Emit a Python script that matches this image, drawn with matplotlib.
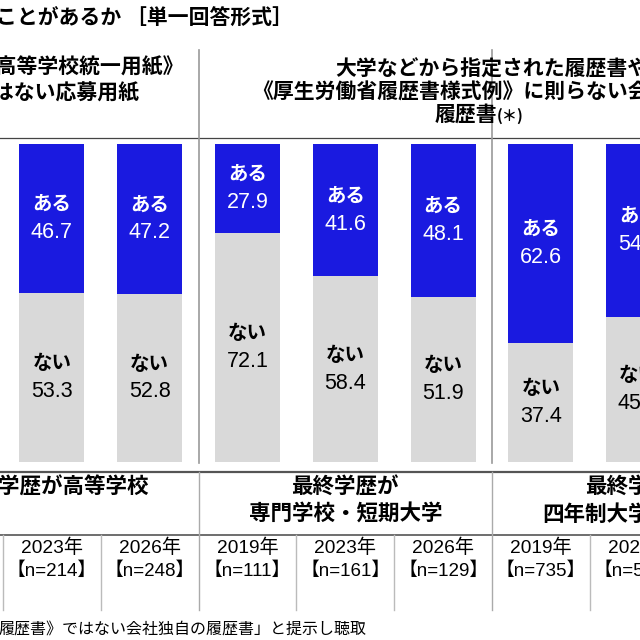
import matplotlib

matplotlib.use("Agg")
import matplotlib.pyplot as plt
import numpy as np

plt.rcParams["font.family"] = ["Liberation Sans", "Noto Sans CJK JP"]

# %%
# Datos (parte visible del gráfico)

title = "ことがあるか ［単一回答形式］"
header_left = ["《全国高等学校統一用紙》", "ではない応募用紙"]
header_right = ["大学などから指定された履歴書や", "《厚生労働省履歴書様式例》に則らない会社独自の"]
header_right_last = "履歴書"
groups = ["最終学歴が高等学校", "最終学歴が\n専門学校・短期大学", "最終学歴が\n四年制大学・大学院"]
group_centers = [0.5, 3.5, 6.5]
years = ["2023年", "2026年", "2019年", "2023年", "2026年", "2019年", "2023年"]
n_labels = ["【n=214】", "【n=248】", "【n=111】", "【n=161】", "【n=129】", "【n=735】", "【n=559】"]
aru = [46.7, 47.2, 27.9, 41.6, 48.1, 62.6, 54.4]
nai = [53.3, 52.8, 72.1, 58.4, 51.9, 37.4, 45.6]
footnote = "履歴書》ではない会社独自の履歴書」と提示し聴取"

blue = "#1a1ae0"
gray = "#d9d9d9"


# píxel vertical -> escala en %
def py(p):
    return (462 - p) / 3.18


# píxel horizontal -> escala de celdas
def px(p):
    return (p - 3) / 97.8


# %%
# Figura

fig = plt.figure(figsize=(6.4, 6.4), dpi=100)
ax = fig.add_axes([0, 0, 1, 1])
ax.set_xlim(px(0), px(640))
ax.set_ylim(py(640), py(0))
ax.axis("off")

x = np.arange(len(aru)) + 0.5
ax.bar(x, nai, width=0.665, color=gray)
ax.bar(x, aru, width=0.665, bottom=nai, color=blue)

for xi, a, n in zip(x, aru, nai):
    mid_a = n + a / 2
    mid_n = n / 2
    ax.annotate("ある", (xi, mid_a), xytext=(0, 10), textcoords="offset points",
                ha="center", va="center", color="white", fontsize=14, fontweight="bold",
                family=["Noto Sans CJK JP"])
    ax.annotate(f"{a:.1f}", (xi, mid_a), xytext=(0, -10), textcoords="offset points",
                ha="center", va="center", color="white", fontsize=15.5)
    ax.annotate("ない", (xi, mid_n), xytext=(0, 10), textcoords="offset points",
                ha="center", va="center", color="black", fontsize=14, fontweight="bold",
                family=["Noto Sans CJK JP"])
    ax.annotate(f"{n:.1f}", (xi, mid_n), xytext=(0, -10), textcoords="offset points",
                ha="center", va="center", color="black", fontsize=15.5)

# líneas
ax.plot([px(0), px(640)], [py(138), py(138)], color="#444444", lw=0.9)
ax.plot([px(0), px(640)], [py(472), py(472)], color="#555555", lw=1.6)
ax.plot([px(0), px(640)], [py(535), py(535)], color="#555555", lw=1.2)
for b in [2, 5]:
    ax.plot([b, b], [py(50), py(463)], color="#999999", lw=1.2)
    ax.plot([b, b], [py(472), py(610)], color="#aaaaaa", lw=1.0)
for b in [0, 1, 3, 4, 6]:
    ax.plot([b, b], [py(535), py(610)], color="#bbbbbb", lw=1.0)

# textos
ax.text(px(-4), py(18), title, ha="left", va="center", fontsize=15,
        fontweight="bold", family=["Noto Sans CJK JP"])

ax.text(px(58), py(67), header_left[0], ha="center", va="center", fontsize=15,
        fontweight="bold", family=["Noto Sans CJK JP"])
ax.text(px(56), py(93), header_left[1], ha="center", va="center", fontsize=15,
        fontweight="bold", family=["Noto Sans CJK JP"])
for k, line in enumerate(header_right):
    ax.text(5, py(69 + 23 * k), line, ha="center", va="center", fontsize=15,
            fontweight="bold", family=["Noto Sans CJK JP"])
ax.text(px(497), py(114), header_right_last, ha="right", va="center", fontsize=15,
        fontweight="bold", family=["Noto Sans CJK JP"])
ax.text(px(497), py(116), "(＊)", ha="left", va="center", fontsize=11,
        fontweight="bold", family=["Noto Sans CJK JP"])

for c, g in zip(group_centers, groups):
    for k, line in enumerate(g.split("\n")):
        ax.text(c, py(487 + 27 * k), line, ha="center", va="center", fontsize=15.5,
                fontweight="bold", family=["Noto Sans CJK JP"])

for xi, yr, nl in zip(x, years, n_labels):
    ax.text(xi, py(548), yr, ha="center", va="center", fontsize=13.8)
    ax.text(xi, py(571), nl, ha="center", va="center", fontsize=13.5)

ax.text(px(367), py(629), footnote, ha="right", va="center", fontsize=11.5,
        family=["Noto Sans CJK JP"])

fig.savefig("out.png", dpi=100)
